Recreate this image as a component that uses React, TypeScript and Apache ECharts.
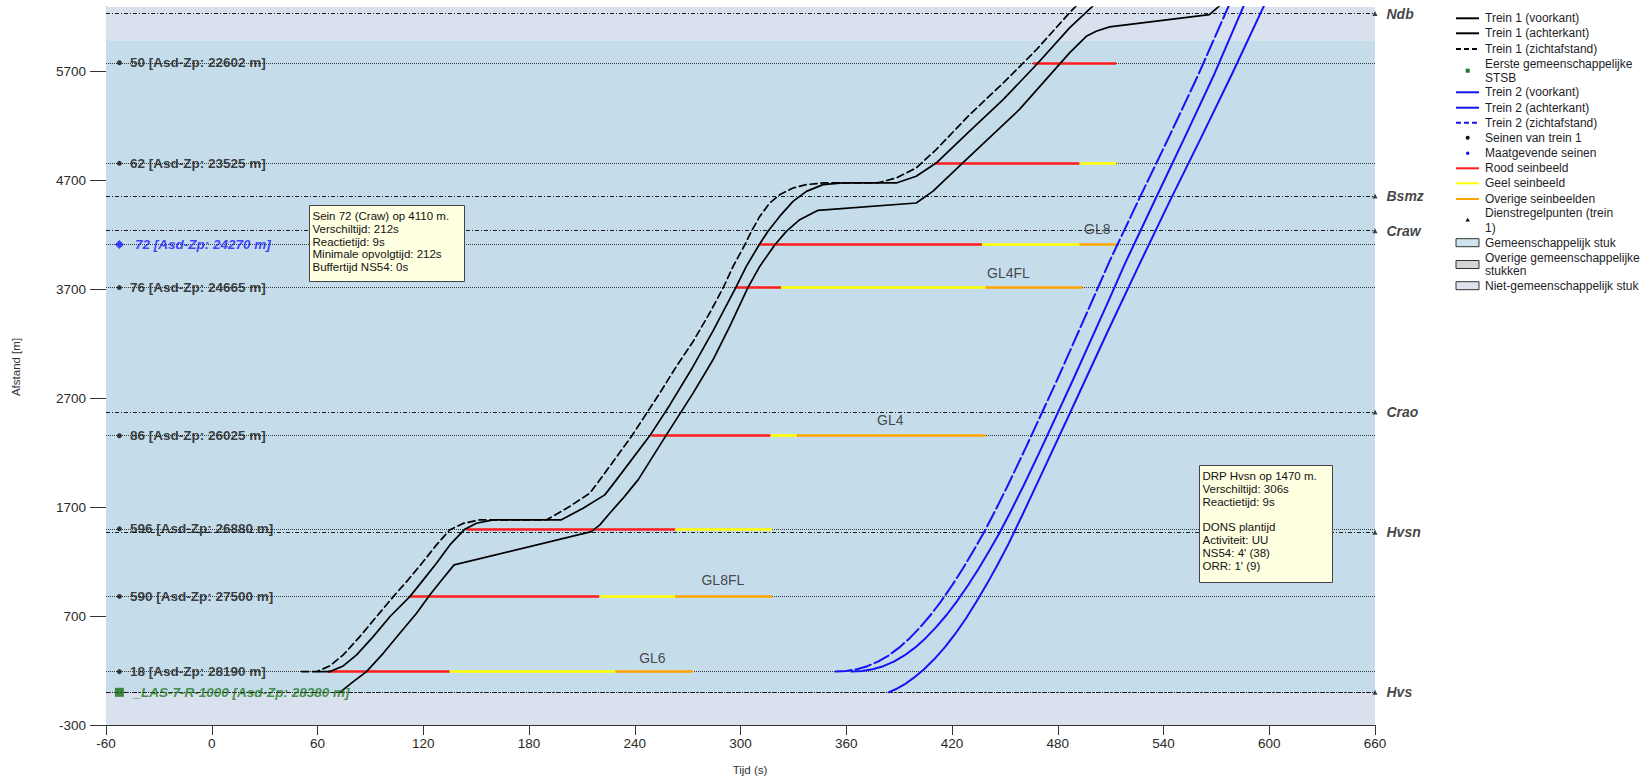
import React, { useEffect, useRef } from "react";
import * as echarts from "echarts";

const FONT = '"Liberation Sans", Arial, Helvetica, sans-serif';

// Axes
const X_MIN = -60;
const X_MAX = 660;
const X_STEP = 60;
const Y_MIN = -300;
const Y_MAX = 6290;
const Y_TICKS = [-300, 700, 1700, 2700, 3700, 4700, 5700];

// Signals of train 1
const SIGNAL_NAMES = ["50", "62", "76", "86", "596", "590", "18"];
const SIGNAL_ASDZP = [22602, 23525, 24665, 26025, 26880, 27500, 28190];
const SIGNAL_POS = [5778, 4855, 3715, 2355, 1500, 880, 190];
const KEY_SIGNAL_NAME = "72";
const KEY_SIGNAL_ASDZP = 24270;
const KEY_SIGNAL_POS = 4110;
const STSB_NAME = "_LAS-7-R-1000";
const STSB_ASDZP = 28380;
const STSB_POS = 0;
const SIGNAL_LABEL_T = -52.4;

// Dienstregelpunten
const DRP_NAMES = ["Ndb", "Bsmz", "Craw", "Crao", "Hvsn", "Hvs"];
const DRP_POS = [6230, 4556, 4237, 2572, 1470, 0];

// Common section boundaries
const COMMON_FROM = 0;
const COMMON_TO = 5985;

// Signal aspect bars: [position, from t, to t]
const RED_BARS = [
  [190, 66, 135], [880, 112.5, 220], [1500, 144.5, 263], [2355, 249.4, 317],
  [3715, 297.3, 323], [4110, 310.5, 437], [4855, 410, 492.4], [5778, 466, 513.2],
];
const YELLOW_BARS = [
  [190, 135, 229], [880, 220, 263], [1500, 263, 318], [2355, 317, 332],
  [3715, 323, 439], [4110, 437, 492.4], [4855, 492.4, 513.2],
];
const ORANGE_BARS = [
  [190, 229, 273], [880, 263, 318], [2355, 332, 439], [3715, 439, 494], [4110, 492.4, 513.2],
];
const ASPECT_LABELS = ["GL6", "GL8FL", "GL4", "GL4FL", "GL8"];
const ASPECT_T = [250, 290, 385, 452, 502.4];
const ASPECT_D = [315, 1030, 2495, 3850, 4253];

// Train 1
const TRAIN1_SIGHT = [
  [51, 190], [59.5, 190], [67, 242], [74.6, 343], [84, 511], [93.5, 695], [103, 878],
  [111.4, 1032], [120, 1200], [127.5, 1353], [135, 1490], [142.6, 1550], [152, 1583],
  [190, 1583], [203, 1705], [214.5, 1828], [220.2, 1950], [238.1, 2348], [254.2, 2746],
  [263.6, 2991], [273.1, 3220], [282.5, 3481], [290.1, 3711], [295.8, 3909], [302.4, 4106],
  [306.2, 4231], [310.9, 4368], [316.6, 4491], [322.2, 4567], [329.8, 4629], [337.4, 4660],
  [346.8, 4675], [377, 4675], [379, 4681], [388.4, 4721], [399.7, 4813], [411, 4981],
  [430, 5302], [449, 5591], [468, 5900], [486.7, 6237], [490.5, 6300],
];
const TRAIN1_FRONT = [
  [60, 190], [67, 190], [74.6, 242], [82.2, 343], [91.6, 511], [101.3, 698], [112.4, 878],
  [120, 1032], [127.5, 1185], [135.1, 1353], [143.6, 1497], [150.2, 1552], [159.6, 1583],
  [198.4, 1583], [210.7, 1690], [223, 1812], [229.6, 1950], [248.5, 2354], [260, 2640],
  [272, 2960], [284.5, 3320], [297.3, 3714], [303.3, 3909], [310.5, 4106], [315.6, 4231],
  [322.2, 4368], [329.8, 4506], [337.4, 4598], [346.8, 4660], [358, 4675], [388.4, 4675],
  [399.7, 4736], [411, 4858], [430, 5150], [449, 5440], [468, 5762], [486.7, 6098], [500, 6300],
];
const TRAIN1_REAR = [
  [72.7, 0], [80.3, 98], [87.8, 190], [97.3, 358], [106.7, 542], [116.2, 726], [123.7, 894],
  [131.3, 1047], [137.5, 1170], [215.4, 1475], [220.2, 1537], [225.8, 1644], [233.4, 1782],
  [237.2, 1858], [241.9, 1950], [257.6, 2354], [273.1, 2746], [284.4, 3052], [293.9, 3358],
  [304.2, 3714], [310.9, 3909], [319.4, 4106], [326, 4231], [333.6, 4338], [344, 4424],
  [399.7, 4491], [409.1, 4598], [430, 4920], [458.3, 5350], [486.7, 5869], [496.2, 6021],
  [501.8, 6068], [509.4, 6108], [566, 6220], [571.8, 6300],
];

// Train 2
const TRAIN2_SIGHT = [
  [354, 190], [360, 196], [366, 212], [372, 240], [378, 282], [384, 338], [390, 410],
  [396, 497], [402, 598], [408, 712], [414, 840], [420, 980], [426, 1132], [432, 1295],
  [438, 1465], [444, 1650], [452, 1910], [462, 2250], [480, 2880], [500, 3610],
  [509.5, 3960], [526.5, 4540], [543.5, 5110], [559.5, 5660], [577, 6300],
];
const TRAIN2_FRONT = [
  [363, 190], [369, 196], [375, 212], [381, 240], [387, 282], [393, 338], [399, 410],
  [405, 497], [411, 598], [417, 712], [423, 840], [429, 980], [435, 1132], [441, 1295],
  [447, 1465], [453, 1650], [461, 1910], [471, 2250], [489, 2880], [509, 3600],
  [518, 3930], [535.5, 4530], [552.5, 5110], [569, 5680], [585.5, 6300],
];
const TRAIN2_REAR = [
  [384, 0], [388, 28], [393, 72], [398, 130], [404, 210], [410, 305], [416, 415],
  [422, 540], [428, 680], [434, 835], [440, 1000], [446, 1175], [452, 1360], [460, 1630],
  [470, 1975], [488, 2600], [508, 3300], [525.5, 3900], [543, 4490], [561, 5080],
  [579, 5680], [597, 6300],
];

const TOOLTIP1 = [
  "Sein 72 (Craw) op 4110 m.",
  "Verschiltijd: 212s",
  "Reactietijd: 9s",
  "Minimale opvolgtijd: 212s",
  "Buffertijd NS54: 0s",
];
const TOOLTIP2 = [
  "DRP Hvsn op 1470 m.",
  "Verschiltijd: 306s",
  "Reactietijd: 9s",
  "",
  "DONS plantijd",
  "Activiteit: UU",
  "NS54: 4' (38)",
  "ORR: 1' (9)",
];

const COMMON_COLOR = "#c5dcea";
const NONCOMMON_COLOR = "#dae1ee";
const RED = "#ff1c1c";
const YELLOW = "#ffff00";
const ORANGE = "#ffa500";
const BLUE = "#1414f5";
const GREEN = "#1f7a1f";

function trainLine(name: string, data: number[][], color: string, dash: any, width: number) {
  return {
    type: "line",
    name,
    data,
    showSymbol: false,
    symbol: "none",
    smooth: false,
    z: 5,
    silent: true,
    emphasis: { disabled: true },
    lineStyle: { color, width, type: dash, cap: "round", join: "round" },
  };
}

function barLines(bars: number[][], color: string) {
  return bars.map(([d, a, b]) => [
    { coord: [a, d], lineStyle: { color, width: 2.6, type: "solid" } },
    { coord: [b, d] },
  ]);
}

function legendGraphics() {
  const g: any[] = [];
  const x1 = 1456;
  const x2 = 1479;
  const tx = 1485;
  const txt = (y: number, text: string) =>
    g.push({
      type: "text",
      z: 100,
      x: tx,
      y,
      style: { text, fontSize: 12, fontFamily: FONT, fill: "#1e1e28", verticalAlign: "middle", align: "left" },
    });
  const ln = (y: number, color: string, dash?: number[]) =>
    g.push({ type: "line", z: 100, shape: { x1, y1: y, x2, y2: y }, style: { stroke: color, lineWidth: 2, lineDash: dash || null } });
  const box = (y: number, fill: string) =>
    g.push({ type: "rect", z: 100, shape: { x: x1, y: y - 4, width: 23, height: 8 }, style: { fill, stroke: "#333", lineWidth: 1 } });

  ln(18.3, "#000"); txt(18.3, "Trein 1 (voorkant)");
  ln(33.3, "#000"); txt(33.3, "Trein 1 (achterkant)");
  ln(49, "#000", [5, 3]); txt(49, "Trein 1 (zichtafstand)");
  g.push({ type: "rect", z: 100, shape: { x: 1465.7, y: 68.7, width: 4, height: 4 }, style: { fill: GREEN } });
  txt(64, "Eerste gemeenschappelijke"); txt(77.7, "STSB");
  ln(92.3, BLUE); txt(92.3, "Trein 2 (voorkant)");
  ln(107.7, BLUE); txt(107.7, "Trein 2 (achterkant)");
  ln(122.7, BLUE, [5, 3]); txt(122.7, "Trein 2 (zichtafstand)");
  g.push({ type: "circle", z: 100, shape: { cx: 1467.7, cy: 137.7, r: 2 }, style: { fill: "#111" } });
  txt(137.7, "Seinen van trein 1");
  g.push({ type: "circle", z: 100, shape: { cx: 1467.7, cy: 153.3, r: 1.7 }, style: { fill: BLUE } });
  txt(153.3, "Maatgevende seinen");
  ln(168.3, RED); txt(168.3, "Rood seinbeeld");
  ln(183.3, YELLOW); txt(183.3, "Geel seinbeeld");
  ln(199, ORANGE); txt(199, "Overige seinbeelden");
  g.push({ type: "polygon", z: 100, shape: { points: [[1467.7, 217.8], [1470, 221.6], [1465.4, 221.6]] }, style: { fill: "#111" } });
  txt(213.3, "Dienstregelpunten (trein"); txt(227.7, "1)");
  box(242.7, "#cfe4ef"); txt(242.7, "Gemeenschappelijk stuk");
  box(264.5, "#d4d4d4"); txt(258.3, "Overige gemeenschappelijke"); txt(271, "stukken");
  box(285.7, "#dde2ee"); txt(285.7, "Niet-gemeenschappelijk stuk");
  return g;
}

function tooltipBox(x: number, y: number, w: number, h: number, lines: string[], lh: number) {
  return [
    {
      type: "rect",
      z: 200,
      shape: { x: x + 0.5, y: y + 0.5, width: w, height: h },
      style: { fill: "#ffffe1", stroke: "#444", lineWidth: 1 },
    },
    {
      type: "text",
      z: 201,
      x: x + 3.5,
      y: y + 5,
      style: {
        text: lines.join("\n"),
        fontSize: 11.5,
        fontFamily: FONT,
        fill: "#111",
        lineHeight: lh,
        verticalAlign: "top",
        align: "left",
      },
    },
  ];
}

function buildOption(): any {
  const signalLines = [...SIGNAL_POS, KEY_SIGNAL_POS, STSB_POS].map((d) => ({
    yAxis: d,
    lineStyle: { type: [1, 1], color: "#3a3a3a", width: 1 },
  }));
  const drpLines = DRP_POS.map((d) => ({
    yAxis: d,
    lineStyle: { type: [4, 2, 1, 2], color: "#1a1a1a", width: 1 },
  }));

  return {
    animation: false,
    backgroundColor: "#ffffff",
    grid: { left: 106, right: 276, top: 7, bottom: 54, containLabel: false },
    xAxis: {
      type: "value",
      min: X_MIN,
      max: X_MAX,
      interval: X_STEP,
      axisLine: { onZero: false, lineStyle: { color: "#333", width: 1 } },
      axisTick: { length: 10, lineStyle: { color: "#333" } },
      axisLabel: { fontSize: 13.5, color: "#2a2a2a", fontFamily: FONT, margin: 11, formatter: (v: number) => String(v) },
      splitLine: { show: false },
    },
    yAxis: {
      type: "value",
      min: Y_MIN,
      max: Y_MAX,
      axisLine: { show: true, onZero: false, lineStyle: { color: "#222", width: 1 } },
      axisTick: { show: true, length: 16, customValues: Y_TICKS, lineStyle: { color: "#333" } },
      axisLabel: {
        fontSize: 13.5,
        color: "#2a2a2a",
        fontFamily: FONT,
        margin: 20,
        customValues: Y_TICKS,
        formatter: (v: number) => String(v),
      },
      splitLine: { show: false },
    },
    graphic: [
      {
        type: "text",
        z: 100,
        x: 16,
        y: 367,
        rotation: Math.PI / 2,
        style: { text: "Afstand [m]", fontSize: 11.5, fontFamily: FONT, fill: "#333", align: "center", verticalAlign: "middle" },
      },
      {
        type: "text",
        z: 100,
        x: 750,
        y: 770,
        style: { text: "Tijd (s)", fontSize: 11.5, fontFamily: FONT, fill: "#333", align: "center", verticalAlign: "middle" },
      },
      ...tooltipBox(309, 205, 155, 76, TOOLTIP1, 12.6),
      ...tooltipBox(1199, 465, 133, 117, TOOLTIP2, 12.75),
      ...legendGraphics(),
    ],
    series: [
      {
        type: "line",
        name: "bands",
        data: [],
        z: 1,
        silent: true,
        markArea: {
          silent: true,
          label: { show: false },
          data: [
            [{ yAxis: Y_MIN, itemStyle: { color: NONCOMMON_COLOR } }, { yAxis: COMMON_FROM }],
            [{ yAxis: COMMON_FROM, itemStyle: { color: COMMON_COLOR } }, { yAxis: COMMON_TO }],
            [{ yAxis: COMMON_TO, itemStyle: { color: NONCOMMON_COLOR } }, { yAxis: Y_MAX }],
          ],
        },
      },
      {
        type: "line",
        name: "reflines",
        data: [],
        z: 2,
        silent: true,
        markLine: {
          silent: true,
          symbol: ["none", "none"],
          label: { show: false },
          emphasis: { disabled: true },
          data: [...signalLines, ...drpLines],
        },
      },
      {
        type: "line",
        name: "aspects",
        data: [],
        z: 3,
        silent: true,
        markLine: {
          silent: true,
          symbol: ["none", "none"],
          label: { show: false },
          emphasis: { disabled: true },
          data: [...barLines(RED_BARS, RED), ...barLines(YELLOW_BARS, YELLOW), ...barLines(ORANGE_BARS, ORANGE)],
        },
      },
      trainLine("Trein 1 (zichtafstand)", TRAIN1_SIGHT, "#000", [7, 4], 1.7),
      trainLine("Trein 1 (voorkant)", TRAIN1_FRONT, "#000", "solid", 1.7),
      trainLine("Trein 1 (achterkant)", TRAIN1_REAR, "#000", "solid", 1.7),
      trainLine("Trein 2 (zichtafstand)", TRAIN2_SIGHT, BLUE, [16, 4], 2),
      trainLine("Trein 2 (voorkant)", TRAIN2_FRONT, BLUE, "solid", 2),
      trainLine("Trein 2 (achterkant)", TRAIN2_REAR, BLUE, "solid", 2),
      {
        type: "scatter",
        name: "signals",
        z: 6,
        silent: true,
        clip: false,
        symbol: "circle",
        symbolSize: 5,
        itemStyle: { color: "#111" },
        label: {
          show: true,
          position: "right",
          distance: 8,
          formatter: "{b}",
          fontFamily: FONT,
          fontWeight: "bold",
          fontSize: 13.5,
          color: "#111",
        },
        data: SIGNAL_POS.map((d, i) => ({
          value: [SIGNAL_LABEL_T, d],
          name: `${SIGNAL_NAMES[i]} [Asd-Zp: ${SIGNAL_ASDZP[i]} m]`,
        })),
      },
      {
        type: "scatter",
        name: "keysignal",
        z: 6,
        silent: true,
        clip: false,
        symbol: "diamond",
        symbolSize: 9,
        itemStyle: { color: "#1a1aff" },
        label: {
          show: true,
          position: "right",
          distance: 11,
          formatter: "{b}",
          fontFamily: FONT,
          fontWeight: "bold",
          fontStyle: "italic",
          fontSize: 13.5,
          color: "#1a1aff",
        },
        data: [{ value: [SIGNAL_LABEL_T, KEY_SIGNAL_POS], name: `${KEY_SIGNAL_NAME} [Asd-Zp: ${KEY_SIGNAL_ASDZP} m]` }],
      },
      {
        type: "scatter",
        name: "stsb",
        z: 6,
        silent: true,
        clip: false,
        symbol: "rect",
        symbolSize: 9,
        itemStyle: { color: "#177017" },
        label: {
          show: true,
          position: "right",
          distance: 9.5,
          formatter: "{b}",
          fontFamily: FONT,
          fontWeight: "bold",
          fontStyle: "italic",
          fontSize: 13.5,
          color: GREEN,
        },
        data: [{ value: [SIGNAL_LABEL_T, STSB_POS], name: `${STSB_NAME} [Asd-Zp: ${STSB_ASDZP} m]` }],
      },
      {
        type: "scatter",
        name: "drp",
        z: 6,
        silent: true,
        clip: false,
        symbol: "triangle",
        symbolSize: 5,
        itemStyle: { color: "#111" },
        label: {
          show: true,
          position: "right",
          distance: 9,
          formatter: "{b}",
          fontFamily: FONT,
          fontWeight: "bold",
          fontStyle: "italic",
          fontSize: 14,
          color: "#111",
        },
        data: DRP_POS.map((d, i) => ({ value: [X_MAX, d], name: DRP_NAMES[i] })),
      },
      {
        type: "scatter",
        name: "aspectlabels",
        z: 6,
        silent: true,
        clip: false,
        symbolSize: 0,
        itemStyle: { color: "transparent" },
        label: {
          show: true,
          position: "inside",
          formatter: "{b}",
          fontFamily: FONT,
          fontSize: 14,
          color: "#222",
        },
        data: ASPECT_LABELS.map((n, i) => ({ value: [ASPECT_T[i], ASPECT_D[i]], name: n })),
      },
    ],
  };
}

export default function App() {
  const ref = useRef<HTMLDivElement>(null);
  useEffect(() => {
    if (!ref.current) return;
    const chart = echarts.init(ref.current, null, { renderer: "svg" });
    chart.setOption(buildOption());
    return () => chart.dispose();
  }, []);
  return (
    <div
      ref={ref}
      style={{ position: "fixed", left: 0, top: 0, width: 1651, height: 779, background: "#fff" }}
    />
  );
}
